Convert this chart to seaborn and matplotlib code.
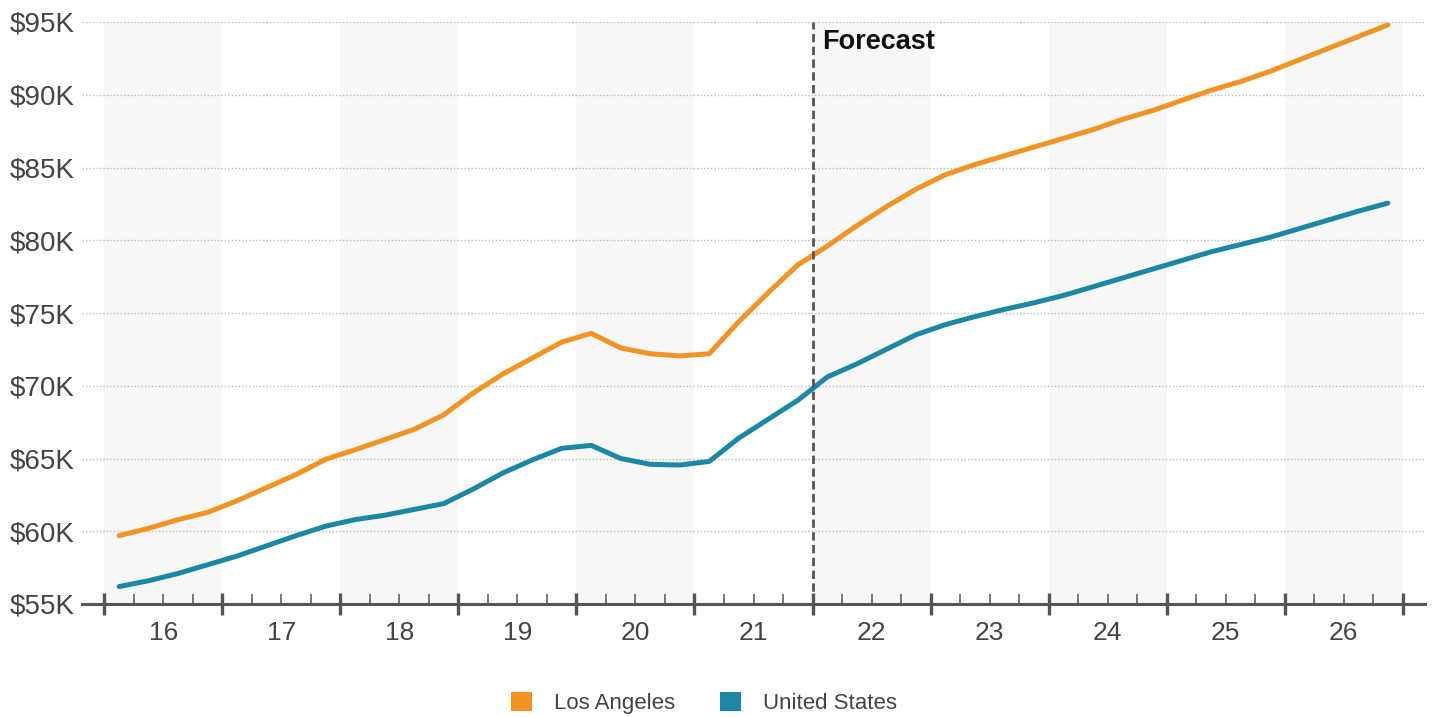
import numpy as np
import pandas as pd
import matplotlib
matplotlib.use("Agg")
import matplotlib.pyplot as plt
from matplotlib.patches import Patch
from matplotlib.ticker import FixedLocator, FuncFormatter
import seaborn as sns

# ---- data (quarterly, $K) ----
years = [16, 17, 18, 19, 20, 21, 22, 23, 24, 25, 26]
year_labels = ["16", "17", "18", "19", "20", "21", "22", "23", "24", "25", "26"]
quarters_per_year = 4
la_values = [59.7, 60.2, 60.8, 61.3, 62.1, 63.0, 63.9, 64.95, 65.6, 66.3, 67.0, 68.0,
             69.5, 70.8, 71.9, 73.0, 73.6, 72.6, 72.2, 72.05, 72.2, 74.4, 76.4, 78.3,
             79.6, 81.0, 82.3, 83.5, 84.5, 85.2, 85.8, 86.4, 87.0, 87.6, 88.3, 88.9,
             89.6, 90.3, 90.9, 91.6, 92.4, 93.2, 94.0, 94.8]
us_values = [56.2, 56.6, 57.1, 57.7, 58.3, 59.0, 59.7, 60.35, 60.8, 61.1, 61.5, 61.9,
             62.9, 64.0, 64.9, 65.7, 65.9, 65.0, 64.6, 64.55, 64.8, 66.4, 67.7, 69.0,
             70.6, 71.5, 72.5, 73.5, 74.2, 74.75, 75.25, 75.7, 76.2, 76.8, 77.4, 78.0,
             78.6, 79.2, 79.7, 80.2, 80.8, 81.4, 82.0, 82.55]
series_names = ["Los Angeles", "United States"]
y_ticks = [55, 60, 65, 70, 75, 80, 85, 90, 95]
forecast_start = 21.5
forecast_label = "Forecast"

colors = {"Los Angeles": "#F39324", "United States": "#1C87A5"}

# quarter midpoints in "year" units (each year band spans year-0.5 .. year+0.5)
qx = [y - 0.5 + (q + 0.5) / quarters_per_year for y in years for q in range(quarters_per_year)]
df = pd.DataFrame({
    "x": qx * 2,
    "value": la_values + us_values,
    "series": ["Los Angeles"] * len(la_values) + ["United States"] * len(us_values),
})

sns.set_theme(style="white")
plt.rcParams["font.family"] = ["Liberation Sans", "DejaVu Sans"]

fig = plt.figure(figsize=(14.37, 7.17), dpi=100)
ax = fig.add_axes([82 / 1437, 1 - 604 / 717, (1425 - 82) / 1437, (604 - 22) / 717])

# alternating year bands
for i, y in enumerate(years):
    if i % 2 == 0:
        ax.axvspan(y - 0.5, y + 0.5, color="#F7F7F7", zorder=0, lw=0)

sns.lineplot(data=df, x="x", y="value", hue="series", palette=colors,
             linewidth=3.6, ax=ax, legend=False, zorder=3, estimator=None)
for ln in ax.get_lines():
    ln.set_solid_capstyle("round")

ax.set_xlim(15.31, 26.69)
ax.set_ylim(55, 95)

# y-axis
ax.yaxis.set_major_locator(FixedLocator(y_ticks))
ax.yaxis.set_major_formatter(FuncFormatter(lambda v, p: f"${int(v)}K"))
ax.tick_params(axis="y", length=0, pad=5, labelsize=20, labelcolor="#444444")
ax.grid(axis="y", linestyle=(0, (1, 1.5)), color="#BBBBBB", linewidth=1.0, zorder=1)
ax.set_axisbelow(True)

# x-axis: major ticks at year boundaries, minor at quarter boundaries
bounds = [y - 0.5 for y in years] + [years[-1] + 0.5]
ax.xaxis.set_major_locator(FixedLocator(bounds))
qb = [y - 0.5 + q / quarters_per_year for y in years for q in range(1, quarters_per_year)]
ax.xaxis.set_minor_locator(FixedLocator(qb))
ax.set_xticklabels([""] * len(bounds))
ax.tick_params(axis="x", which="major", bottom=True, direction="inout", length=16,
               width=2.4, color="#555555")
ax.tick_params(axis="x", which="minor", bottom=True, direction="in", length=7,
               width=1.1, color="#555555")

trans = ax.get_xaxis_transform()
for y, lab in zip(years, year_labels):
    ax.text(y, -0.05, lab, transform=trans, ha="center", va="center",
            fontsize=19, color="#444444")

for s in ["left", "right", "top"]:
    ax.spines[s].set_visible(False)
ax.spines["bottom"].set_color("#555555")
ax.spines["bottom"].set_linewidth(2.2)
ax.spines["bottom"].set_zorder(4)

ax.set_xlabel("")
ax.set_ylabel("")

# forecast marker
ax.axvline(forecast_start, color="#555555", linewidth=2.0, linestyle=(0, (3, 1.6)), zorder=4)
ax.text(forecast_start + 0.085, 94.5, forecast_label, fontsize=19.5, fontweight="bold",
        color="#111111", ha="left", va="top", zorder=5)

# legend
handles = [Patch(facecolor=colors[n], edgecolor="none", label=n) for n in series_names]
fig.legend(handles=handles, loc="center", bbox_to_anchor=(0.49, 0.02), ncol=2,
           frameon=False, fontsize=16, handlelength=0.95, handleheight=0.95,
           handletextpad=1.0, columnspacing=2.0, labelcolor="#444444")

fig.savefig("out.png", dpi=100)
